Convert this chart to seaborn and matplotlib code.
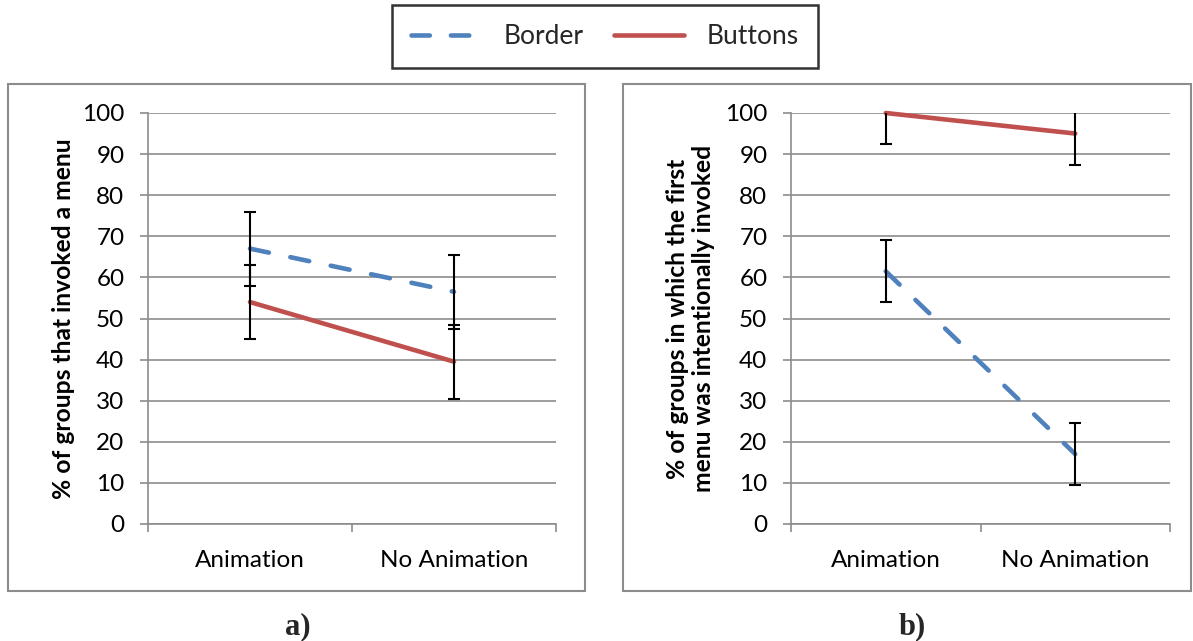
import numpy as np
import pandas as pd
import matplotlib
matplotlib.use("Agg")
import matplotlib.pyplot as plt
from matplotlib.patches import Rectangle
from matplotlib.lines import Line2D
import seaborn as sns

# -----------------------------
# Data
# -----------------------------
categories = ["Animation", "No Animation"]

# panel a) % of groups that invoked a menu
border_invoked = [67, 56.5]
border_invoked_err = [9, 9]
buttons_invoked = [54, 39.5]
buttons_invoked_err = [9, 9]

# panel b) % of groups whose first menu was intentional
border_intent = [61.5, 17]
border_intent_err = [7.6, 7.6]
buttons_intent = [100, 95]
buttons_intent_err = [7.6, 7.6]

y_ticks = list(range(0, 101, 10))

# -----------------------------
# Style
# -----------------------------
sns.set_theme(style="white")
plt.rcParams["font.family"] = ["Lato", "DejaVu Sans"]

BLUE = "#4F81BD"
RED = "#C0504D"
GRID = "#8C8C8C"
LW = 3.3
DASH = (4.2, 4.8)
TICK_FS = 17.5

W, H = 1193, 641
fig = plt.figure(figsize=(W / 100, H / 100), dpi=100)


def px_box(x0, y0, x1, y1):
    # pixel box (top-left origin) -> figure fraction rect
    return [x0 / W, 1 - y1 / H, (x1 - x0) / W, (y1 - y0) / H]


# panel frames
for x0, x1 in [(8, 585), (623, 1191)]:
    r = px_box(x0, 84, x1, 591)
    fig.patches.append(Rectangle((r[0], r[1]), r[2], r[3], transform=fig.transFigure,
                                 fill=False, edgecolor=GRID, linewidth=1.5))


def draw_panel(ax, border, border_err, buttons, buttons_err, ylabel):
    df = pd.DataFrame({
        "cond": categories * 2,
        "val": list(border) + list(buttons),
        "series": ["Border"] * 2 + ["Buttons"] * 2,
    })
    sns.lineplot(data=df[df.series == "Border"], x="cond", y="val", ax=ax,
                 color=BLUE, linewidth=LW, sort=False, legend=False)
    sns.lineplot(data=df[df.series == "Buttons"], x="cond", y="val", ax=ax,
                 color=RED, linewidth=LW, sort=False, legend=False)
    lines = ax.get_lines()
    lines[0].set_dashes(DASH)
    lines[0].set_dash_capstyle("round")
    for ln in lines:
        ln.set_clip_on(False)
        ln.set_solid_capstyle("round")

    xs = np.arange(len(categories))
    ax.errorbar(xs, border, yerr=border_err, fmt="none", ecolor="black",
                elinewidth=1.5, capsize=4.6, capthick=1.5, zorder=5)
    ax.errorbar(xs, buttons, yerr=buttons_err, fmt="none", ecolor="black",
                elinewidth=1.5, capsize=4.6, capthick=1.5, zorder=5)

    ax.set_xlim(-0.5, 1.5)
    ax.set_ylim(0, 100)
    ax.set_yticks(y_ticks)
    ax.set_xticks(xs)
    ax.set_xticklabels(categories)
    ax.set_xticks([-0.5, 0.5, 1.5], minor=True)
    ax.yaxis.grid(True, color=GRID, linewidth=1.2)
    ax.set_axisbelow(True)
    for s in ["top", "right"]:
        ax.spines[s].set_visible(False)
    for s in ["left", "bottom"]:
        ax.spines[s].set_color(GRID)
        ax.spines[s].set_linewidth(1.2)
    ax.tick_params(axis="y", which="major", left=True, length=6, width=1.2,
                   color=GRID, pad=11, labelsize=TICK_FS, labelcolor="black")
    ax.tick_params(axis="x", which="major", bottom=False, pad=13,
                   labelsize=TICK_FS, labelcolor="black")
    ax.tick_params(axis="x", which="minor", bottom=True, length=6, width=1.2,
                   color=GRID)
    ax.set_xlabel("")
    ax.set_ylabel(ylabel, fontsize=17.7, fontweight="bold", color="black",
                  linespacing=1.15)


ax1 = fig.add_axes(px_box(148, 113, 556, 524))
ax2 = fig.add_axes(px_box(791, 113, 1170, 524))

draw_panel(ax1, border_invoked, border_invoked_err, buttons_invoked,
           buttons_invoked_err, "% of groups that invoked a menu")
draw_panel(ax2, border_intent, border_intent_err, buttons_intent,
           buttons_intent_err,
           "% of groups in which the first\nmenu was intentionally invoked")
ax1.yaxis.set_label_coords(-0.18, 0.5)
ax2.yaxis.set_label_coords(-0.2, 0.5)

# legend
handles = [
    Line2D([], [], color=BLUE, linewidth=LW, dashes=(4.0, 4.6),
           dash_capstyle="round"),
    Line2D([], [], color=RED, linewidth=LW, solid_capstyle="round"),
]
leg = fig.legend(handles, ["Border", "Buttons"], loc="center",
                 bbox_to_anchor=(605 / W, 1 - 36.5 / H), ncol=2,
                 fontsize=19, frameon=True, fancybox=False, handlelength=2.65,
                 columnspacing=1.15, handletextpad=0.85, borderpad=0.72,
                 borderaxespad=0.0)
leg.get_frame().set_edgecolor("black")
leg.get_frame().set_linewidth(1.8)

# panel captions
for x, txt in [(298, "a)"), (912, "b)")]:
    fig.text(x / W, 1 - 627 / H, txt, ha="center", va="center",
             fontsize=22, fontweight="bold",
             family=["Liberation Serif", "DejaVu Serif"])

plt.savefig("out.png", dpi=100)
